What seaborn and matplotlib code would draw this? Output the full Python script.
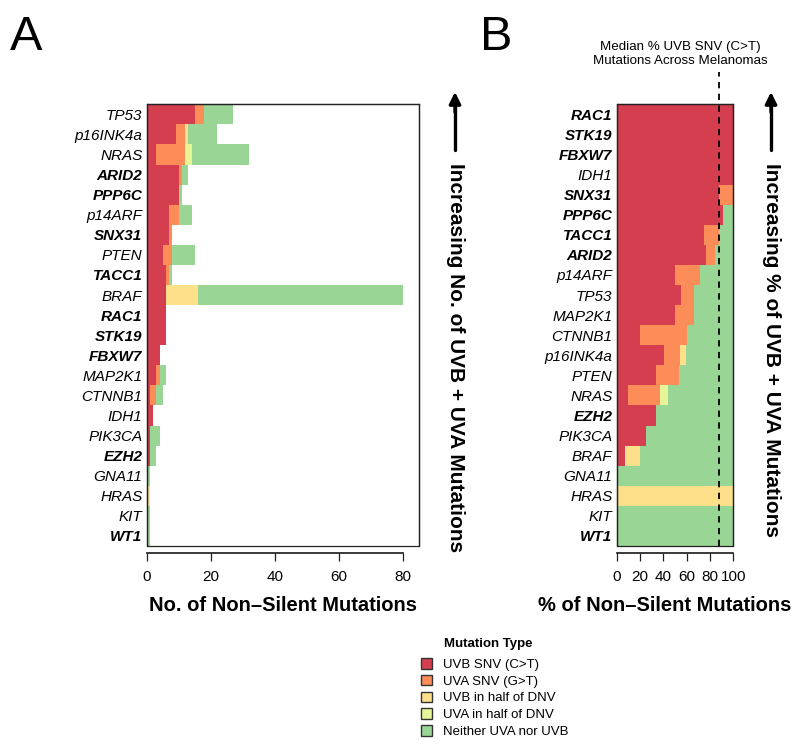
import matplotlib
matplotlib.use("Agg")
import numpy as np
import pandas as pd
import matplotlib.pyplot as plt
from matplotlib.patches import Patch, Rectangle
import seaborn as sns

# panel A order (by number of UVB + UVA mutations)
genes_a = ["TP53", "p16INK4a", "NRAS", "ARID2", "PPP6C", "p14ARF", "SNX31", "PTEN",
           "TACC1", "BRAF", "RAC1", "STK19", "FBXW7", "MAP2K1", "CTNNB1", "IDH1",
           "PIK3CA", "EZH2", "GNA11", "HRAS", "KIT", "WT1"]
uvb_snv = [15, 9, 3, 10, 10, 7, 7, 5, 6, 6, 6, 6, 4, 3, 1, 2, 1, 1, 0, 0, 0, 0]
uva_snv = [3, 3, 9, 1, 0, 3, 1, 3, 1, 0, 0, 0, 0, 1, 2, 0, 0, 0, 0, 0, 0, 0]
uvb_dnv = [0, 1, 0, 0, 0, 0, 0, 0, 0, 10, 0, 0, 0, 0, 0, 0, 0, 0, 0, 1, 0, 0]
uva_dnv = [0, 0, 2, 0, 0, 0, 0, 0, 0, 0, 0, 0, 0, 0, 0, 0, 0, 0, 0, 0, 0, 0]
neither = [9, 9, 18, 2, 1, 4, 0, 7, 1, 64, 0, 0, 0, 2, 2, 0, 3, 2, 1, 0, 1, 1]

# panel B order (by % UVB + UVA mutations)
genes_b = ["RAC1", "STK19", "FBXW7", "IDH1", "SNX31", "PPP6C", "TACC1", "ARID2",
           "p14ARF", "TP53", "MAP2K1", "CTNNB1", "p16INK4a", "PTEN", "NRAS", "EZH2",
           "PIK3CA", "BRAF", "GNA11", "HRAS", "KIT", "WT1"]
bold_genes = ["ARID2", "PPP6C", "SNX31", "TACC1", "RAC1", "STK19", "FBXW7", "EZH2", "WT1"]
median_uvb_pct = 87.7

types = ["UVB SNV (C>T)", "UVA SNV (G>T)", "UVB in half of DNV",
         "UVA in half of DNV", "Neither UVA nor UVB"]
colors = ["#D53E4F", "#FC8D59", "#FEE08B", "#E6F598", "#99D594"]

sns.set_theme(style="white")
plt.rcParams["font.family"] = ["Liberation Sans", "DejaVu Sans"]
for key in ["text.color", "axes.labelcolor", "xtick.color", "ytick.color"]:
    plt.rcParams[key] = "black"

counts = pd.DataFrame(
    {t: v for t, v in zip(types, [uvb_snv, uva_snv, uvb_dnv, uva_dnv, neither])},
    index=genes_a,
)
cum_a = counts.cumsum(axis=1)
pct = counts.div(counts.sum(axis=1), axis=0) * 100
cum_b = pct.loc[genes_b].cumsum(axis=1)

W, H = 800, 744
fig = plt.figure(figsize=(8, 7.44), dpi=100)


def box(l, t, r, b):
    return [l / W, 1 - b / H, (r - l) / W, (b - t) / H]


ax_a = fig.add_axes(box(146.7, 104.3, 419.3, 546))
ax_b = fig.add_axes(box(616.7, 104.3, 733.3, 546))


def stacked(ax, cum, order):
    # draw the layers from the outermost cumulative sum inwards
    for t, c in reversed(list(zip(types, colors))):
        sns.barplot(x=cum.loc[order, t].values, y=order, order=order, color=c,
                    saturation=1, width=1, errorbar=None, linewidth=0, ax=ax)


def style_axis(ax, xmax, ticks):
    ax.set_xlim(0, xmax)
    ax.set_xticks(ticks)
    ax.set_xticklabels([str(t) for t in ticks], fontsize=11)
    for side in ["top", "left", "right"]:
        ax.spines[side].set_color("#222222")
        ax.spines[side].set_linewidth(0.9)
    # R style: detached x axis below the box
    ax.add_patch(Rectangle((0, 0), 1, 1, transform=ax.transAxes, fill=False,
                           edgecolor="#222222", lw=0.9, clip_on=False, zorder=5))
    ax.spines["bottom"].set_position(("outward", 5))
    ax.spines["bottom"].set_bounds(ticks[0], ticks[-1])
    ax.spines["bottom"].set_color("#222222")
    ax.tick_params(axis="x", bottom=True, length=6, width=0.9, color="#222222", pad=6)
    ax.tick_params(axis="y", left=False, length=0, pad=3)
    ax.set_ylabel("")
    for lab in ax.get_yticklabels():
        lab.set_fontsize(11)
        lab.set_fontstyle("italic")
        if lab.get_text() in bold_genes:
            lab.set_fontweight("bold")
    ax.grid(False)


stacked(ax_a, cum_a, genes_a)
style_axis(ax_a, 85, [0, 20, 40, 60, 80])
ax_a.set_xlabel("No. of Non\u2013Silent Mutations", fontsize=14.5, fontweight="bold",
                labelpad=9)

stacked(ax_b, cum_b, genes_b)
style_axis(ax_b, 100, [0, 20, 40, 60, 80, 100])
ax_b.set_xlabel("% of Non\u2013Silent Mutations", fontsize=14.5, fontweight="bold",
                labelpad=9)
# the label is wider than the panel; keep it inside the figure
ax_b.xaxis.label.set_x(0.41)
ax_b.axvline(median_uvb_pct, ymin=0, ymax=1.073, color="black", lw=1.3,
             ls=(0, (3.5, 3)), clip_on=False, zorder=6)
fig.text(680 / W, 1 - 54 / H, "Median % UVB SNV (C>T)\nMutations Across Melanomas",
         ha="center", va="center", fontsize=9.6, linespacing=1.15)

# panel letters
fig.text(10 / W, 1 - 50 / H, "A", fontsize=35, ha="left", va="baseline")
fig.text(480 / W, 1 - 50 / H, "B", fontsize=35, ha="left", va="baseline")

# vertical arrows and captions
for x, caption in [(455, "Increasing No. of UVB + UVA Mutations"),
                   (771, "Increasing % of UVB + UVA Mutations")]:
    fig.add_artist(plt.Line2D([x / W, x / W], [1 - 150 / H, 1 - 100 / H],
                              color="black", lw=2.4))
    ax_a.annotate("", xy=(x / W, 1 - 92 / H), xytext=(x / W, 1 - 112 / H),
                  xycoords="figure fraction", textcoords="figure fraction",
                  arrowprops=dict(arrowstyle="-|>", color="black", lw=2.4,
                                  mutation_scale=17, shrinkA=0, shrinkB=0))
    fig.text(x / W, 1 - 163 / H, caption, rotation=-90, ha="center", va="top",
             fontsize=15, fontweight="bold")

# legend
fig.text(444 / W, 1 - 644 / H, "Mutation Type", fontsize=9.5, fontweight="bold",
         ha="left", va="center")
handles = [Patch(facecolor=c, edgecolor="#333333", lw=1) for c in colors]
fig.legend(handles, types, loc="upper left", bbox_to_anchor=(421 / W, 1 - 658 / H),
           frameon=False, fontsize=9.5, handlelength=0.85, handleheight=0.85,
           handletextpad=0.85, labelspacing=0.3, borderpad=0, borderaxespad=0)

fig.savefig("out.png", dpi=100)
